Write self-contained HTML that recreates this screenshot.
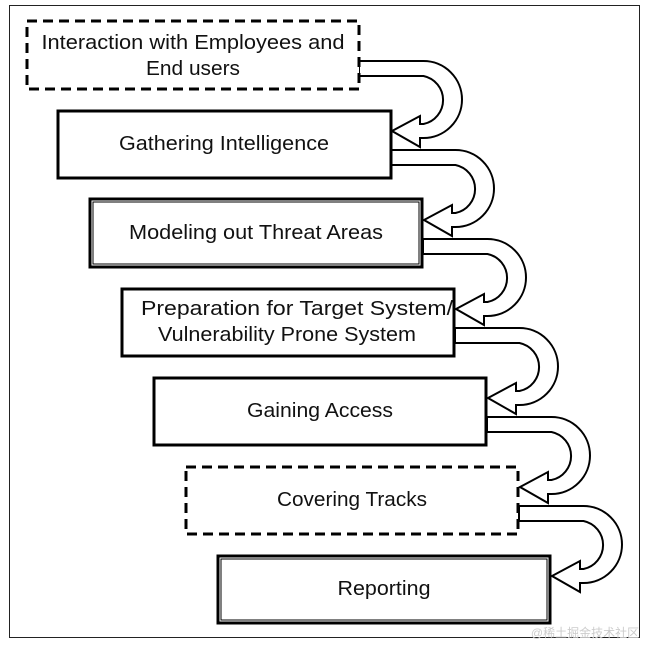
<!DOCTYPE html>
<html><head><style>
body{margin:0;background:#fff;}
svg text{font-family:"Liberation Sans",sans-serif;font-size:20px;fill:#111;text-anchor:middle;}
</style></head><body>
<svg width="650" height="646" viewBox="0 0 650 646" xmlns="http://www.w3.org/2000/svg">
<rect x="9.5" y="5.5" width="630" height="632" fill="none" stroke="#222" stroke-width="1"/>
<g fill="#fff" stroke="#000" stroke-width="2" stroke-linejoin="miter">
<path id="a" d="M359,61 L423.5,61 A38.5,38.5 0 0 1 423.5,138 L420,138 L420,147 L392,131 L420,116 L420,124 L423.5,124 A24.5,24.5 0 0 0 423.5,76 L359,76 Z"/>
<use href="#a" transform="translate(32,89)"/>
<use href="#a" transform="translate(64,178)"/>
<use href="#a" transform="translate(96,267)"/>
<use href="#a" transform="translate(128,356)"/>
<use href="#a" transform="translate(160,445)"/>
</g>
<g fill="#fff" stroke="#000">
<rect x="27" y="21" width="332" height="68" stroke-width="3" stroke-dasharray="10,6"/>
<rect x="58" y="111" width="333" height="67" stroke-width="3"/>
<rect x="90" y="199" width="332" height="68" stroke-width="3"/>
<rect x="93" y="202" width="326" height="62" stroke-width="1"/>
<rect x="122" y="289" width="332" height="67" stroke-width="3"/>
<rect x="154" y="378" width="332" height="67" stroke-width="3"/>
<rect x="186" y="467" width="332" height="67" stroke-width="3" stroke-dasharray="10,6"/>
<rect x="218" y="556" width="332" height="67" stroke-width="3"/>
<rect x="221" y="559" width="326" height="61" stroke-width="1"/>
</g>
<g lengthAdjust="spacingAndGlyphs">
<text x="193" y="49" textLength="303" lengthAdjust="spacingAndGlyphs">Interaction with Employees and</text>
<text x="193" y="75" textLength="94" lengthAdjust="spacingAndGlyphs">End users</text>
<text x="224" y="150" textLength="210" lengthAdjust="spacingAndGlyphs">Gathering Intelligence</text>
<text x="256" y="239" textLength="254" lengthAdjust="spacingAndGlyphs">Modeling out Threat Areas</text>
<text x="297" y="315" textLength="312" lengthAdjust="spacingAndGlyphs">Preparation for Target System/</text>
<text x="287" y="341" textLength="258" lengthAdjust="spacingAndGlyphs">Vulnerability Prone System</text>
<text x="320" y="417" textLength="146" lengthAdjust="spacingAndGlyphs">Gaining Access</text>
<text x="352" y="506" textLength="150" lengthAdjust="spacingAndGlyphs">Covering Tracks</text>
<text x="384" y="595" textLength="93" lengthAdjust="spacingAndGlyphs">Reporting</text>
</g>
<text x="585" y="637" style="font-size:12px;fill:#ccc;font-family:'Liberation Sans','Noto Sans CJK SC',sans-serif">@稀土掘金技术社区</text>
</svg>
</body></html>
